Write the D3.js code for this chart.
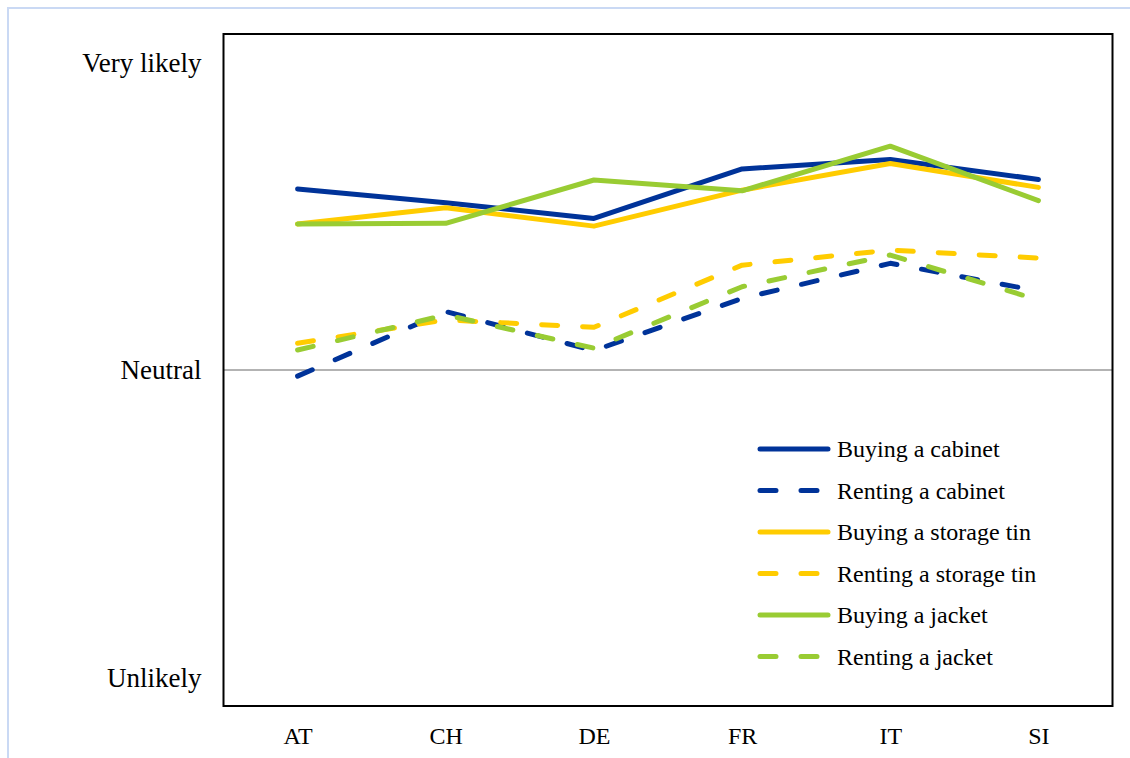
<!DOCTYPE html>
<html>
<head>
<meta charset="utf-8">
<script src="https://cdn.jsdelivr.net/npm/d3@7"></script>
<style>
  html, body { margin: 0; padding: 0; background: #fff; }
  svg { display: block; }
  text { font-family: "Liberation Serif", "Times New Roman", serif; fill: #000; }
</style>
</head>
<body>
<svg id="chart" width="1130" height="758"></svg>
<script>
const countries = ["AT", "CH", "DE", "FR", "IT", "SI"];
const yTickValues = [-1, 0, 1];
const yTickLabels = ["Unlikely", "Neutral", "Very likely"];

const seriesNames = ["Buying a cabinet", "Renting a cabinet", "Buying a storage tin", "Renting a storage tin", "Buying a jacket", "Renting a jacket"];
const buyingCabinet = [0.589, 0.544, 0.493, 0.654, 0.685, 0.620];
const rentingCabinet = [-0.020, 0.190, 0.063, 0.233, 0.347, 0.257];
const buyingTin = [0.475, 0.528, 0.468, 0.585, 0.672, 0.594];
const rentingTin = [0.087, 0.163, 0.139, 0.341, 0.390, 0.364];
const buyingJacket = [0.475, 0.477, 0.618, 0.583, 0.728, 0.551];
const rentingJacket = [0.065, 0.179, 0.071, 0.271, 0.374, 0.228];
const seriesColors = ["#003399", "#003399", "#FFCC00", "#FFCC00", "#99CC33", "#99CC33"];
const seriesDashed = [false, true, false, true, false, true];

const seriesValues = [buyingCabinet, rentingCabinet, buyingTin, rentingTin, buyingJacket, rentingJacket];
const series = seriesNames.map((name, i) => ({
  name, color: seriesColors[i], dashed: seriesDashed[i],
  values: seriesValues[i].map((v, j) => ({ c: countries[j], v }))
}));

const svg = d3.select("#chart");
const pLeft = 223.5, pRight = 1112.5, pTop = 34, pBottom = 706;

// outer light frame
svg.append("path")
  .attr("d", "M8,760 L8,8 L1132,8")
  .attr("fill", "none").attr("stroke", "#cad9f4").attr("stroke-width", 2);

const x = d3.scalePoint().domain(countries).range([pLeft, pRight]).padding(0.5);
const y = d3.scaleLinear().domain([-1.093, 1.093]).range([pBottom, pTop]);

// neutral gridline
svg.append("line")
  .attr("x1", pLeft).attr("x2", pRight)
  .attr("y1", y(0)).attr("y2", y(0))
  .attr("stroke", "#b3b3b3").attr("stroke-width", 2);

// y labels
const yAxis = d3.axisLeft(y).tickValues(yTickValues)
  .tickFormat(d => yTickLabels[yTickValues.indexOf(d)])
  .tickSize(0).tickPadding(22);
const gy = svg.append("g").attr("transform", `translate(${pLeft},0)`).call(yAxis);
gy.select(".domain").remove();
gy.selectAll("text").style("font-family", '"Liberation Serif", "Times New Roman", serif')
  .style("font-size", "27px").attr("fill", "#000");

// x labels
const xAxis = d3.axisBottom(x).tickSize(0).tickPadding(21);
const gx = svg.append("g").attr("transform", `translate(0,${pBottom})`).call(xAxis);
gx.select(".domain").remove();
gx.selectAll("text").style("font-family", '"Liberation Serif", "Times New Roman", serif')
  .style("font-size", "24px").attr("fill", "#000");

// lines
const line = d3.line().x(d => x(d.c)).y(d => y(d.v));
svg.append("g").selectAll("path").data(series).join("path")
  .attr("d", d => line(d.values))
  .attr("fill", "none")
  .attr("stroke", d => d.color)
  .attr("stroke-width", 5)
  .attr("stroke-linecap", "round")
  .attr("stroke-linejoin", "round")
  .attr("stroke-dasharray", d => d.dashed ? "16,25" : null);

// plot frame
svg.append("rect")
  .attr("x", pLeft).attr("y", pTop)
  .attr("width", pRight - pLeft).attr("height", pBottom - pTop)
  .attr("fill", "none").attr("stroke", "#000").attr("stroke-width", 2);

// legend
const legend = svg.append("g").attr("transform", "translate(760,449)");
const rows = legend.selectAll("g").data(series).join("g")
  .attr("transform", (d, i) => `translate(0,${i * 41.5})`);
rows.append("line")
  .attr("x1", 0).attr("x2", 68).attr("y1", 0).attr("y2", 0)
  .attr("stroke", d => d.color).attr("stroke-width", 5)
  .attr("stroke-linecap", "round")
  .attr("stroke-dasharray", d => d.dashed ? "16,25" : null);
rows.append("text")
  .attr("x", 77).attr("y", 0).attr("dy", "0.35em")
  .style("font-size", "24px")
  .text(d => d.name);
</script>
</body>
</html>
